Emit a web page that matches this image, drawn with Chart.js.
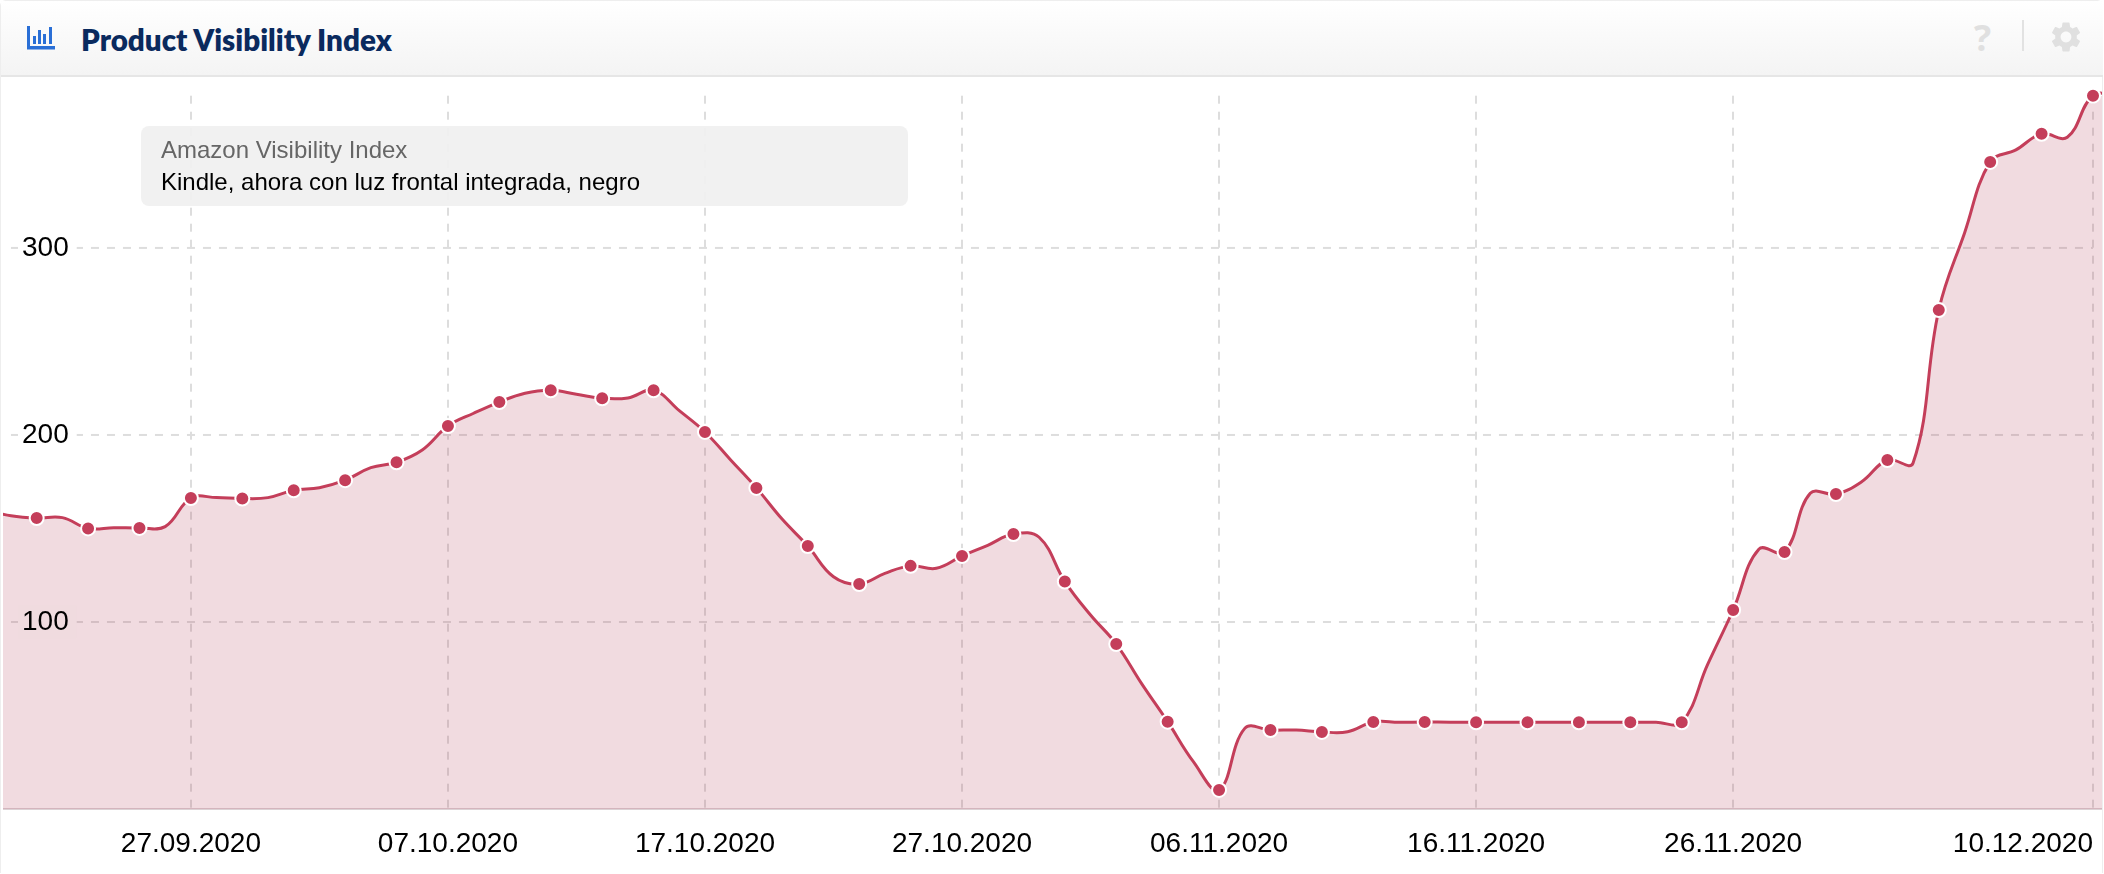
<!DOCTYPE html>
<html>
<head>
<meta charset="utf-8">
<title>Product Visibility Index</title>
<script src="https://cdn.jsdelivr.net/npm/chart.js@4/dist/chart.umd.js"></script>
<style>
    html, body { margin: 0; padding: 0; background: #fff; }
    body { width: 2104px; height: 874px; position: relative; overflow: hidden; font-family: "Liberation Sans", Arial, sans-serif; }
    #frame { position: absolute; left: 0; top: 0; width: 2101px; height: 872px; border: 1.5px solid #eeeeee; border-bottom: 0; border-radius: 6px 6px 0 0; }
    #header { position: absolute; left: 1px; top: 1px; width: 2102px; height: 74px; background: linear-gradient(#ffffff, #f4f4f4); border-bottom: 2px solid #e6e6e6; }
    #title { position: absolute; left: 80px; top: 21px; font: 800 29.6px/36px Lato, sans-serif; color: #0a2a5e; white-space: nowrap; }
    #icon { position: absolute; left: 25px; top: 25px; }
    #help { position: absolute; left: 1973px; top: 17px; font: bold 36px/40px "Open Sans", sans-serif; color: #e0e0e0; }
    #divider { position: absolute; left: 2021px; top: 19px; width: 2px; height: 31px; background: #e2e2e2; }
    #gear { position: absolute; left: 2047px; top: 18px; }
    #chartBox { position: absolute; left: 3px; top: 0; width: 2099px; height: 874px; }
    #note { position: absolute; left: 141px; top: 126px; width: 767px; height: 80px; border-radius: 8px; background: rgba(240,240,240,0.92); }
    #note div { position: absolute; left: 20px; font-size: 24px; line-height: 33px; white-space: nowrap; }
    #noteLabel { top: 7px; color: #666; }
    #noteName { top: 39px; color: #000; }
</style>
</head>
<body>
<div id="frame"></div>
<div id="chartBox"><canvas id="chart" width="2099" height="874"></canvas></div>
<div id="header">
    <svg id="icon" width="30" height="24" viewBox="0 0 30 24">
        <rect x="1" y="0" width="3" height="22" fill="#2a6fd6"/>
        <rect x="1" y="20" width="28" height="3.5" fill="#2a6fd6"/>
        <rect x="7" y="10" width="3" height="8" fill="#2a6fd6"/>
        <rect x="12" y="4" width="3" height="14" fill="#2a6fd6"/>
        <rect x="17" y="8" width="3" height="10" fill="#2a6fd6"/>
        <rect x="23" y="1" width="3" height="17" fill="#2a6fd6"/>
    </svg>
    <div id="title">Product Visibility Index</div>
    <div id="help">?</div>
    <div id="divider"></div>
    <svg id="gear" width="36" height="36" viewBox="0 0 24 24"><path fill="#e0e0e0" d="M19.14 12.94c.04-.3.06-.61.06-.94 0-.32-.02-.64-.07-.94l2.03-1.58a.49.49 0 0 0 .12-.61l-1.92-3.32a.488.488 0 0 0-.59-.22l-2.39.96c-.5-.38-1.03-.7-1.62-.94l-.36-2.54a.484.484 0 0 0-.48-.41h-3.84c-.24 0-.43.17-.47.41l-.36 2.54c-.59.24-1.13.57-1.62.94l-2.39-.96c-.22-.08-.47 0-.59.22L2.74 8.87c-.12.21-.08.47.12.61l2.03 1.58c-.05.3-.09.63-.09.94s.02.64.07.94l-2.03 1.58a.49.49 0 0 0-.12.61l1.92 3.32c.12.22.37.29.59.22l2.39-.96c.5.38 1.03.7 1.62.94l.36 2.54c.05.24.24.41.48.41h3.84c.24 0 .44-.17.47-.41l.36-2.54c.59-.24 1.13-.56 1.62-.94l2.39.96c.22.08.47 0 .59-.22l1.92-3.32c.12-.22.07-.47-.12-.61l-2.01-1.58zM12 15.6c-1.98 0-3.6-1.62-3.6-3.6s1.62-3.6 3.6-3.6 3.6 1.62 3.6 3.6-1.62 3.6-3.6 3.6z"/></svg>
</div>
<div id="note">
    <div id="noteLabel">Amazon Visibility Index</div>
    <div id="noteName">Kindle, ahora con luz frontal integrada, negro</div>
</div>
<script>
var dates = [
    '19.09.2020','20.09.2020','21.09.2020','22.09.2020','23.09.2020','24.09.2020','25.09.2020','26.09.2020','27.09.2020','28.09.2020','29.09.2020','30.09.2020',
    '01.10.2020','02.10.2020','03.10.2020','04.10.2020','05.10.2020','06.10.2020','07.10.2020','08.10.2020','09.10.2020','10.10.2020','11.10.2020','12.10.2020','13.10.2020','14.10.2020','15.10.2020','16.10.2020','17.10.2020','18.10.2020','19.10.2020','20.10.2020','21.10.2020','22.10.2020','23.10.2020','24.10.2020','25.10.2020','26.10.2020','27.10.2020','28.10.2020','29.10.2020','30.10.2020','31.10.2020',
    '01.11.2020','02.11.2020','03.11.2020','04.11.2020','05.11.2020','06.11.2020','07.11.2020','08.11.2020','09.11.2020','10.11.2020','11.11.2020','12.11.2020','13.11.2020','14.11.2020','15.11.2020','16.11.2020','17.11.2020','18.11.2020','19.11.2020','20.11.2020','21.11.2020','22.11.2020','23.11.2020','24.11.2020','25.11.2020','26.11.2020','27.11.2020','28.11.2020','29.11.2020','30.11.2020',
    '01.12.2020','02.12.2020','03.12.2020','04.12.2020','05.12.2020','06.12.2020','07.12.2020','08.12.2020','09.12.2020','10.12.2020','11.12.2020'
];
var visibility = [
    160,156.8,155.6,155.8,150,150.4,150.3,151,166.3,166.5,166,166.5,
    170.4,171.8,175.8,182.5,185.4,192,204.8,211.6,217.6,222.3,223.9,221.8,219.6,219.8,223.9,213,201.6,186.6,171.7,155,140.6,124.2,120.3,126,130,128.7,135.3,141,147,145.3,121.6,
    103.7,88.2,66.8,46.7,25.3,10.2,43.1,42.2,42.2,41.2,41.3,46.5,46.4,46.5,46.4,46.4,46.4,46.4,46.4,46.4,46.4,46.4,46.4,46.4,77,106.4,138.9,137.4,168.8,168.4,
    175,186.6,185,266.8,307.9,346,352.4,361,359.2,381.4,381.5
];
var xTickLabels = ['27.09.2020','07.10.2020','17.10.2020','27.10.2020','06.11.2020','16.11.2020','26.11.2020','10.12.2020'];
var yTickValues = [100, 200, 300];

var axisFont = { family: '"Liberation Sans", Arial, sans-serif', size: 28 };
var fillColor = 'rgba(170,40,70,0.17)';
var solidFill = '#f0dbdf';
var lineColor = '#c43e5a';
var gridColor = '#dddddd';

// days since the first date, the x scale is linear on this
function dayOf(str){
    var p = str.split('.');
    return Math.round((Date.UTC(+p[2], +p[1] - 1, +p[0]) - Date.UTC(2020, 8, 19)) / 86400000);
}
var xMin = 0.69, xMax = 82.35;

var labelByDay = {};
xTickLabels.forEach(function(l){ labelByDay[dayOf(l)] = l; });

// horizontal grid stops at the first day and the last tick, not at the plot edges
var hGrid = {
    id: 'hGrid',
    beforeDatasetsDraw: function(chart){
        var c = chart.ctx, x = chart.scales.x, y = chart.scales.y;
        c.save();
        c.strokeStyle = gridColor;
        c.lineWidth = 2;
        c.setLineDash([8, 8]);
        yTickValues.forEach(function(v){
            var py = y.getPixelForValue(v);
            c.beginPath();
            c.moveTo(x.getPixelForValue(1), py);
            c.lineTo(x.getPixelForValue(dayOf('10.12.2020')), py);
            c.stroke();
        });
        c.restore();
    }
};

new Chart(document.getElementById('chart'), {
    type: 'line',
    plugins: [hGrid],
    data: {
        datasets: [{
            label: 'Amazon Visibility Index',
            data: dates.map(function(d, i){ return { x: dayOf(d), y: visibility[i] }; }),
            borderColor: lineColor,
            borderWidth: 3,
            backgroundColor: fillColor,
            fill: 'origin',
            tension: 0.4,
            clip: false,
            pointRadius: function(ctx){ return ctx.dataIndex % 2 === 0 ? 7 : 0; },
            pointBackgroundColor: lineColor,
            pointBorderColor: '#ffffff',
            pointBorderWidth: 2
        }]
    },
    options: {
        responsive: false,
        animation: false,
        events: [],
        layout: { autoPadding: false, padding: { top: 95.7, left: 0, right: 0, bottom: 0 } },
        plugins: { legend: { display: false }, tooltip: { enabled: false } },
        scales: {
            x: {
                type: 'linear',
                min: xMin,
                max: xMax,
                afterBuildTicks: function(axis){
                    // empty first tick keeps the 'inner' align on the last label only
                    axis.ticks = [{ value: xMin }].concat(xTickLabels.map(function(l){ return { value: dayOf(l) }; }));
                },
                afterFit: function(axis){
                    axis.height = 65;
                    // tick padding would otherwise be reserved on both sides of the plot
                    axis.paddingLeft = 0;
                    axis.paddingRight = 0;
                },
                grid: {
                    color: function(ctx){ return ctx.tick && ctx.tick.value === xMin ? 'rgba(0,0,0,0)' : gridColor; },
                    lineWidth: 2,
                    drawTicks: false
                },
                border: { display: true, color: '#dcd2d5', width: 2, dash: [8, 8] },
                ticks: {
                    autoSkip: false,
                    maxRotation: 0,
                    align: 'inner',
                    padding: 18,
                    color: '#000',
                    font: axisFont,
                    callback: function(v){ return labelByDay[v] || ''; }
                }
            },
            y: {
                min: 0,
                max: 381.4,
                afterBuildTicks: function(axis){
                    axis.ticks = yTickValues.map(function(v){ return { value: v }; });
                },
                afterFit: function(axis){ axis.width = 0; },
                grid: { display: false, drawTicks: false },
                border: { display: false },
                ticks: {
                    mirror: true,
                    padding: 19,
                    z: 1,
                    color: '#000',
                    font: axisFont,
                    showLabelBackdrop: true,
                    backdropColor: function(ctx){ return ctx.tick.value === 100 ? solidFill : '#ffffff'; },
                    backdropPadding: { left: 4, right: 8, top: 0, bottom: 0 }
                }
            }
        }
    }
});
</script>
</body>
</html>
